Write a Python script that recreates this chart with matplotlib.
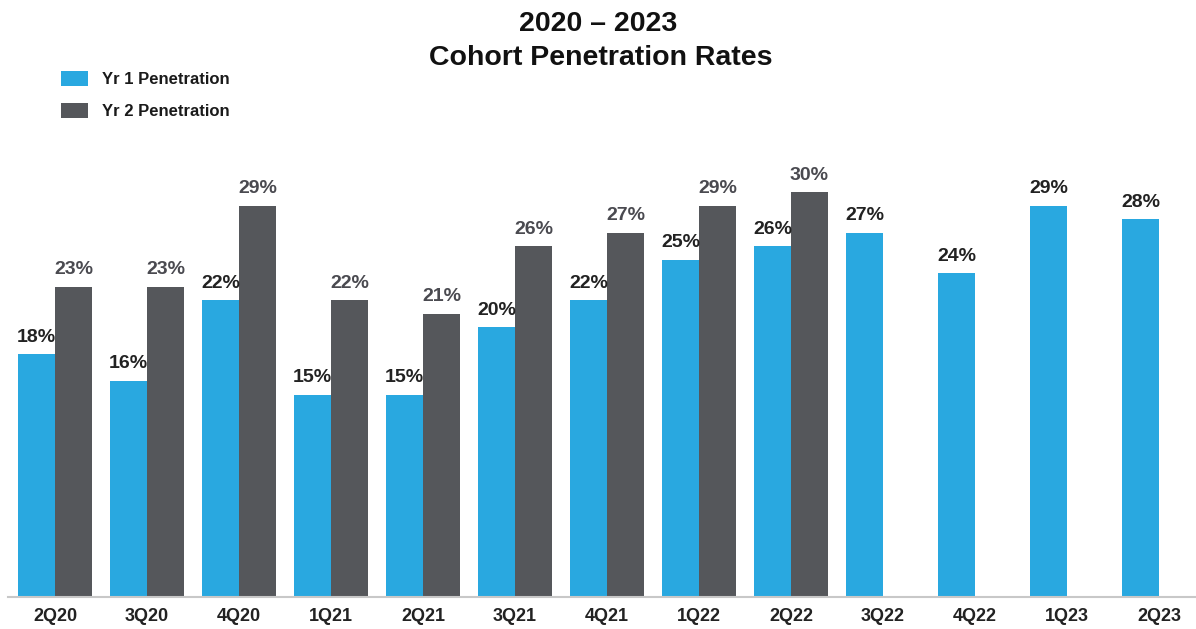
import matplotlib
matplotlib.use("Agg")
import matplotlib.pyplot as plt
import numpy as np

plt.rcParams['font.family'] = ['Liberation Sans', 'DejaVu Sans']

categories = ["2Q20", "3Q20", "4Q20", "1Q21", "2Q21", "3Q21", "4Q21",
              "1Q22", "2Q22", "3Q22", "4Q22", "1Q23", "2Q23"]
yr1 = [18, 16, 22, 15, 15, 20, 22, 25, 26, 27, 24, 29, 28]
yr2 = [23, 23, 29, 22, 21, 26, 27, 29, 30]
series_names = ["Yr 1 Penetration", "Yr 2 Penetration"]

BLUE = "#29A8E0"
GRAY = "#55575B"

W, H = 1196, 629
fig = plt.figure(figsize=(W / 100, H / 100), dpi=100)
ax = fig.add_axes([0, 32 / H, 1, (597 - 150) / H])

x = np.arange(len(categories))
bw = 0.4
x2 = x[:len(yr2)]
b1 = ax.bar(x - bw / 2, yr1, width=bw, color=BLUE, label=series_names[0])
b2 = ax.bar(x2 + bw / 2, yr2, width=bw, color=GRAY, label=series_names[1])

for xi, v in zip(x - bw / 2, yr1):
    ax.annotate(f"{v}%", (xi, v), xytext=(0, 9), textcoords="offset points",
                ha="center", va="baseline", fontsize=14, fontweight="bold",
                color="#222222")
for xi, v in zip(x2 + bw / 2, yr2):
    ax.annotate(f"{v}%", (xi, v), xytext=(0, 9), textcoords="offset points",
                ha="center", va="baseline", fontsize=14, fontweight="bold",
                color="#4a4a50")

ax.set_xlim(-55 / 92, (W - 55) / 92)
ax.set_ylim(0, (597 - 150) / 13.5)
ax.set_xticks(x)
ax.set_xticklabels(categories, fontsize=13, fontweight="bold", color="#222222")
ax.tick_params(axis="x", length=0, pad=8)
ax.set_yticks([])
for s in ["top", "left", "right"]:
    ax.spines[s].set_visible(False)
ax.spines["bottom"].set_color("#c8c8c8")
ax.spines["bottom"].set_linewidth(1.5)
ax.spines["bottom"].set_bounds(-47 / 92, (W - 55) / 92)

fig.text(598 / W, 1 - 31 / H, "2020 \u2013 2023", ha="center", va="baseline",
         fontsize=20.5, fontweight="bold", color="#111111")
fig.text(601 / W, 1 - 65 / H, "Cohort Penetration Rates", ha="center",
         va="baseline", fontsize=20.5, fontweight="bold", color="#111111")

leg = fig.legend(handles=[b1, b2], labels=series_names, loc="upper left",
                 bbox_to_anchor=(61 / W, 1 - 71 / H), frameon=False,
                 fontsize=12, handlelength=1.62, handleheight=1.0,
                 handletextpad=0.85, labelspacing=0.95, borderpad=0,
                 borderaxespad=0)
for t in leg.get_texts():
    t.set_fontweight("bold")
    t.set_color("#1a1a1a")

fig.savefig("out.png", dpi=100)
